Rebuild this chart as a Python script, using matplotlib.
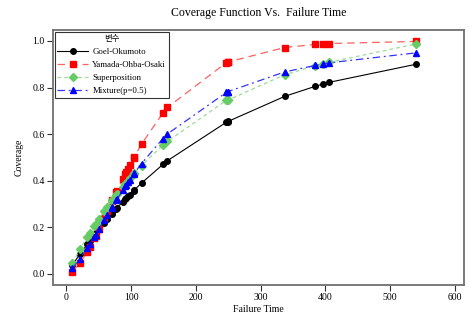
import numpy as np
import matplotlib
matplotlib.use("Agg")
import matplotlib.pyplot as plt
from matplotlib.font_manager import FontProperties

# failure times (NTDS data)
failure_time = [9, 21, 32, 36, 43, 45, 50, 58, 63, 70, 71, 77, 78, 87, 91, 92,
                95, 98, 104, 105, 116, 149, 156, 247, 249, 250, 337, 384, 396,
                405, 540]

goel_okumoto = [0.038, 0.086, 0.127, 0.142, 0.167, 0.174, 0.192, 0.219, 0.235,
                0.258, 0.261, 0.280, 0.283, 0.310, 0.321, 0.324, 0.333, 0.341,
                0.358, 0.361, 0.390, 0.470, 0.486, 0.651, 0.654, 0.655, 0.762,
                0.805, 0.815, 0.822, 0.900]

yamada = [0.010, 0.046, 0.095, 0.115, 0.153, 0.164, 0.193, 0.240, 0.269, 0.311,
          0.317, 0.352, 0.357, 0.408, 0.430, 0.436, 0.452, 0.468, 0.499, 0.504,
          0.557, 0.691, 0.715, 0.907, 0.909, 0.910, 0.972, 0.985, 0.987, 0.989,
          0.998]

superposition = [0.047, 0.107, 0.159, 0.177, 0.207, 0.216, 0.237, 0.269, 0.288,
                 0.315, 0.318, 0.340, 0.344, 0.375, 0.388, 0.392, 0.401, 0.411,
                 0.430, 0.433, 0.465, 0.553, 0.569, 0.745, 0.746, 0.747, 0.855,
                 0.893, 0.902, 0.908, 0.987]

mixture = [0.024, 0.066, 0.111, 0.129, 0.160, 0.169, 0.193, 0.230, 0.252, 0.285,
           0.289, 0.316, 0.320, 0.359, 0.376, 0.380, 0.393, 0.405, 0.429, 0.433,
           0.474, 0.581, 0.601, 0.779, 0.782, 0.783, 0.867, 0.895, 0.901, 0.906,
           0.949]

series_names = ["Goel-Okumoto", "Yamada-Ohba-Osaki", "Superposition", "Mixture(p=0.5)"]

serif = "Liberation Serif"
plt.rcParams["font.family"] = [serif, "Noto Sans CJK KR"]

fig = plt.figure(figsize=(4.68, 3.23), dpi=100)
ax = fig.add_axes([0.113, 0.118, 0.878, 0.789])

ax.plot(failure_time, goel_okumoto, color="black", lw=0.8, ls="-",
        marker="o", ms=4, mfc="black", mec="black", label=series_names[0])
ax.plot(failure_time, yamada, color="#ff6060", lw=0.9, ls=(0, (6, 4)),
        marker="s", ms=4.5, mfc="#ff0000", mec="#ff0000", label=series_names[1])
ax.plot(failure_time, superposition, color="#99dd99", lw=0.9, ls=(0, (3, 2.5)),
        marker="D", ms=4, mfc="#66cc66", mec="#66cc66", label=series_names[2])
ax.plot(failure_time, mixture, color="#3333ff", lw=0.9, ls=(0, (6, 3, 1.5, 3)),
        marker="^", ms=5, mfc="#0000ff", mec="#0000ff", label=series_names[3])

ax.set_xlim(-21, 614)
ax.set_ylim(-0.047, 1.047)
ax.set_xticks(np.arange(0, 601, 100))
ax.set_yticks(np.arange(0, 1.01, 0.2))
ax.set_yticklabels([f"{v:.1f}" for v in np.arange(0, 1.01, 0.2)])

for s in ax.spines.values():
    s.set_color("#707070")
    s.set_linewidth(1.3)
ax.tick_params(direction="out", length=4, width=0.8, color="#303030",
               labelsize=7, pad=2)

ax.set_xlabel("Failure Time", fontsize=7, labelpad=2)
ax.set_ylabel("Coverage", fontsize=7, labelpad=6)
ax.set_title("Coverage Function Vs.  Failure Time", fontsize=8.5, pad=10)

leg = ax.legend(loc="upper left", fontsize=6.3, title="변수",
                title_fontproperties=FontProperties(family="Noto Sans CJK KR", size=6),
                frameon=True, fancybox=False, edgecolor="black",
                borderaxespad=0.2, handlelength=3.5, labelspacing=0.55,
                borderpad=0.3, handletextpad=0.5)
leg.get_frame().set_linewidth(0.8)

fig.savefig("out.png", dpi=100)
